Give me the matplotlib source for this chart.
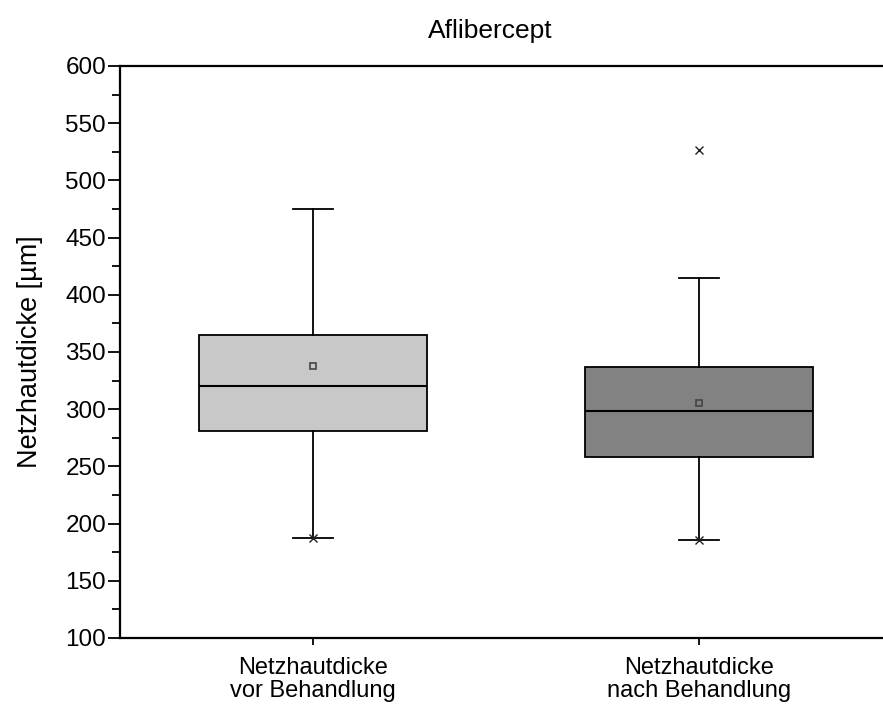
import matplotlib.pyplot as plt
from matplotlib.ticker import MultipleLocator

plt.rcParams['font.family'] = ['Liberation Sans', 'DejaVu Sans']

# retinal thickness before / after treatment
labels = ["Netzhautdicke\nvor Behandlung", "Netzhautdicke\nnach Behandlung"]
q1 = [281, 258]
med = [320, 298]
q3 = [365, 337]
mean = [338, 305]
whislo = [187, 186]
whishi = [475, 415]
crosses = [[187], [186, 527]]
fills = ["#c8c8c8", "#828282"]

fig = plt.figure(figsize=(8.83, 7.13), dpi=100)
ax = fig.add_axes([120 / 883, 1 - 638 / 713, 772 / 883, 572 / 713])

stats = []
for i in range(len(labels)):
    stats.append(dict(med=med[i], q1=q1[i], q3=q3[i], whislo=whislo[i],
                      whishi=whishi[i], mean=mean[i], fliers=[]))

bp = ax.bxp(stats, positions=[1, 2], widths=0.59, patch_artist=True,
            showmeans=True, showfliers=False,
            boxprops=dict(edgecolor="black", linewidth=1.3),
            medianprops=dict(color="black", linewidth=1.5),
            whiskerprops=dict(color="black", linewidth=1.3),
            capprops=dict(color="black", linewidth=1.3),
            meanprops=dict(marker="s", markersize=5, markerfacecolor="none",
                           markeredgecolor="#444444", markeredgewidth=1.2))
for cap in bp["caps"]:
    x0, x1 = cap.get_xdata()
    c = (x0 + x1) / 2
    cap.set_xdata([c - 0.052, c + 0.052])
for patch, col in zip(bp["boxes"], fills):
    patch.set_facecolor(col)

for i, pts in enumerate(crosses):
    ax.plot([i + 1] * len(pts), pts, "x", color="#222222", markersize=6,
            markeredgewidth=1.0)

ax.set_xlim(0.5, 2.5)
ax.set_ylim(100, 600)
ax.yaxis.set_major_locator(MultipleLocator(50))
ax.yaxis.set_minor_locator(MultipleLocator(25))
ax.set_xticks([1, 2])
ax.set_xticklabels(labels, fontsize=17, linespacing=1.05)
ax.tick_params(axis="y", which="major", direction="out", length=8.5, width=1.3,
               labelsize=17.5, pad=1.5)
ax.tick_params(axis="y", which="minor", direction="out", length=5.5, width=1.3)
ax.tick_params(axis="x", direction="out", length=5, width=1.3, pad=9)
for s in ax.spines.values():
    s.set_linewidth(1.6)

ax.set_ylabel("Netzhautdicke [µm]", fontsize=19.5, labelpad=16)
fig.text(490 / 883, 1 - 31 / 713, "Aflibercept", fontsize=19,
         ha="center", va="center")

fig.savefig("out.png", dpi=100)
